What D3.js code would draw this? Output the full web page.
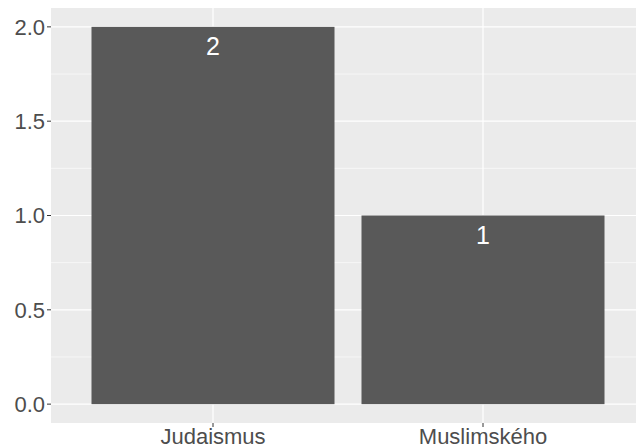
<!DOCTYPE html>
<html><head><meta charset="utf-8">
<script src="https://cdn.jsdelivr.net/npm/d3@7"></script>
<style>body{margin:0;background:#fff}svg{display:block}text{font-family:"Liberation Sans",Arial,sans-serif}</style>
</head><body><div id="c"></div>
<script>
const categories = ["Judaismus", "Muslimského"];
const values = [2, 1];
const yTicks = [0, 0.5, 1, 1.5, 2];
const yTickLabels = ["0.0", "0.5", "1.0", "1.5", "2.0"];
const yMinor = [0.25, 0.75, 1.25, 1.75];

const W = 636, H = 448;
const panel = {left: 51, top: 8, right: 645, bottom: 423};
const svg = d3.select("#c").append("svg").attr("width", W).attr("height", H);

// ggplot discrete axis: 0.6 units expansion each side, bar width 0.9
const x = d3.scaleLinear().domain([0.4, categories.length + 0.6]).range([panel.left, panel.right]);
const unit = x(1) - x(0);
const xc = d => x(categories.indexOf(d) + 1);
const y = d3.scaleLinear().domain([-0.1, 2.1]).range([panel.bottom, panel.top]);

svg.append("rect").attr("x", panel.left).attr("y", panel.top)
  .attr("width", panel.right - panel.left).attr("height", panel.bottom - panel.top).attr("fill", "#EBEBEB");

const g = svg.append("g");
g.selectAll(".minor").data(yMinor).join("line")
  .attr("x1", panel.left).attr("x2", panel.right)
  .attr("y1", d => y(d)).attr("y2", d => y(d))
  .attr("stroke", "#fff").attr("stroke-width", 0.6);
g.selectAll(".major").data(yTicks).join("line")
  .attr("x1", panel.left).attr("x2", panel.right)
  .attr("y1", d => y(d)).attr("y2", d => y(d))
  .attr("stroke", "#fff").attr("stroke-width", 1.2);
g.selectAll(".vmajor").data(categories).join("line")
  .attr("x1", d => xc(d)).attr("x2", d => xc(d))
  .attr("y1", panel.top).attr("y2", panel.bottom)
  .attr("stroke", "#fff").attr("stroke-width", 1.2);

svg.selectAll(".bar").data(categories).join("rect")
  .attr("x", d => xc(d) - 0.45 * unit)
  .attr("width", 0.9 * unit)
  .attr("y", (d, i) => y(values[i]))
  .attr("height", (d, i) => y(0) - y(values[i]))
  .attr("fill", "#595959");

svg.selectAll(".lbl").data(categories).join("text")
  .attr("x", d => xc(d))
  .attr("y", (d, i) => y(values[i]) + 28)
  .attr("text-anchor", "middle").attr("fill", "#fff").attr("font-size", 25)
  .text((d, i) => values[i]);

// y axis
svg.selectAll(".yt").data(yTicks).join("line")
  .attr("x1", panel.left - 4).attr("x2", panel.left)
  .attr("y1", d => y(d)).attr("y2", d => y(d))
  .attr("stroke", "#333").attr("stroke-width", 1);
svg.selectAll(".ytl").data(yTicks).join("text")
  .attr("x", panel.left - 6).attr("y", d => y(d))
  .attr("dy", "0.36em").attr("text-anchor", "end")
  .attr("fill", "#4D4D4D").attr("font-size", 22)
  .text((d, i) => yTickLabels[i]);

// x axis
svg.selectAll(".xt").data(categories).join("line")
  .attr("x1", d => xc(d)).attr("x2", d => xc(d))
  .attr("y1", panel.bottom).attr("y2", panel.bottom + 4)
  .attr("stroke", "#333").attr("stroke-width", 1);
svg.selectAll(".xtl").data(categories).join("text")
  .attr("x", d => xc(d)).attr("y", 444)
  .attr("text-anchor", "middle").attr("fill", "#4D4D4D").attr("font-size", 22)
  .text(d => d);
</script></body></html>
